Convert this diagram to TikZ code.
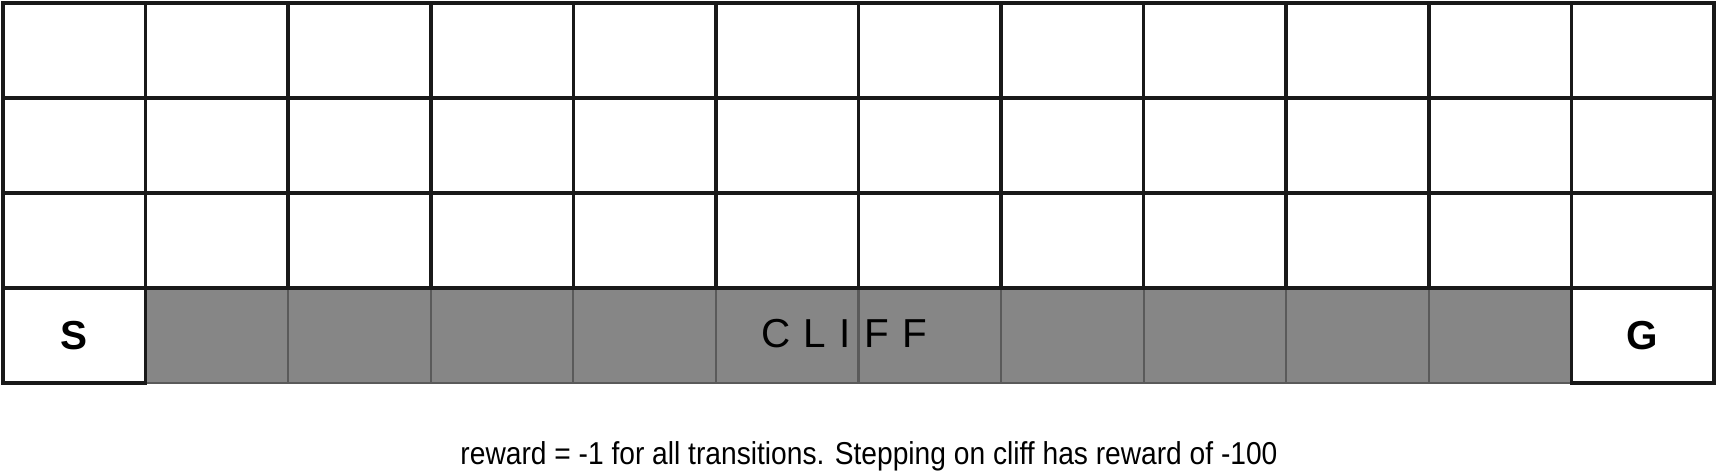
\documentclass[tikz,border=0pt]{standalone}
\usepackage{fontspec}
\setmainfont{Liberation Sans}
\newfontfamily\captionfont[FakeStretch=0.89]{Liberation Sans}
\usetikzlibrary{positioning}
\definecolor{cliffgray}{HTML}{868686}
\definecolor{cliffline}{HTML}{5A5A5A}
\tikzset{
	cell/.style={draw=black!90, line width=1pt, minimum width=1.4258cm, minimum height=0.95cm,
		inner sep=0pt, outer sep=0pt, font=\fontsize{11.5}{12}\selectfont\bfseries},
	cliffcell/.style={cell, draw=cliffline, fill=cliffgray, line width=0.6pt}
}

\begin{document}
\begin{tikzpicture}[x=0.01cm, y=-0.01cm]
		\useasboundingbox (0,0) rectangle (1716,471);

		% bottom row: start, cliff, goal
		\foreach \col in {2,...,11}
			\node[cliffcell] (cliff\col) at ({3+142.58*(\col-0.5)}, 335.5) {};
		\node[cell] (start) at ({3+142.58*0.5}, 335.5) {S};
		\node[cell] (goal) at ({3+142.58*11.5}, 335.5) {G};

		% upper three rows
		\foreach \row in {1,2,3}
			\foreach \col in {1,...,12}
				\node[cell] (c\row-\col) at ({3+142.58*(\col-0.5)}, {3+95*(\row-0.5)}) {};

		\node[font=\fontsize{11.5}{12}\selectfont] (clifflabel) at (844, 334) {\spaceskip=3.8pt\relax C L I F F};

		\node[anchor=base, font=\captionfont\fontsize{9}{10}\selectfont] (caption) at (869, 465)
			{reward = -1 for all transitions. Stepping on cliff has reward of -100};
	\end{tikzpicture}
\end{document}
